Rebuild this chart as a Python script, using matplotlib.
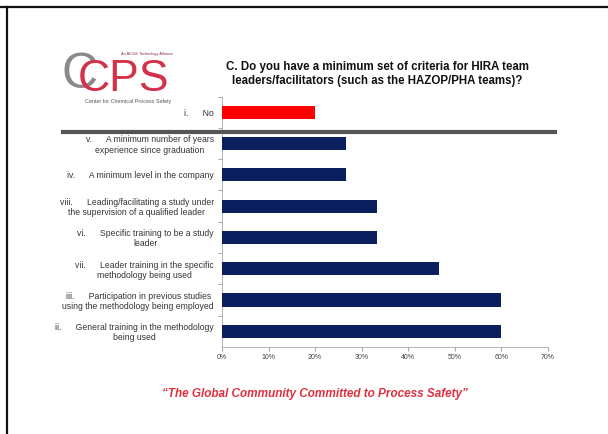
import matplotlib
matplotlib.use("Agg")
import matplotlib.pyplot as plt
from matplotlib.lines import Line2D

plt.rcParams["font.family"] = ["Liberation Sans", "DejaVu Sans"]

# Survey answers, top to bottom as shown on the slide
numerals = ["i.", "v.", "iv.", "viii.", "vi.", "vii.", "iii.", "ii."]
answers = [
    "No",
    "A minimum number of years\nexperience since graduation",
    "A minimum level in the company",
    "Leading/facilitating a study under\nthe supervision of a qualified leader",
    "Specific training to be a study\nleader",
    "Leader training in the specific\nmethodology being used",
    "Participation in previous studies\nusing the methodology being employed",
    "General training in the methodology\nbeing used",
]
shares = [20.0, 26.7, 26.7, 33.3, 33.3, 46.7, 60.0, 60.0]
bar_colors = ["#ff0000"] + ["#0b1f5e"] * 7
ticks = [0, 10, 20, 30, 40, 50, 60, 70]
tick_labels = [f"{t}%" for t in ticks]

W, H = 608, 434
fig = plt.figure(figsize=(W / 100, H / 100), dpi=100)
ax = fig.add_axes([222 / W, 1 - 347 / H, 326 / W, 250.5 / H])

ypos = list(range(len(answers)))
ax.barh(ypos, shares, height=0.42, color=bar_colors, zorder=3)
ax.set_xlim(0, 70)
ax.set_ylim(len(answers) - 0.5, -0.5)

ax.set_xticks(ticks)
ax.set_xticklabels(tick_labels, fontsize=5, color="#444444")
ax.tick_params(axis="x", length=3, color="#aaaaaa", pad=2)

# tick marks sit on category boundaries, the labels on the category centres
ax.set_yticks([y + 0.5 for y in ypos[:-1]] + [-0.5])
ax.set_yticklabels([])
ax.tick_params(axis="y", which="major", length=3, color="#aaaaaa")
labels = [f"{num}      {txt}" for num, txt in zip(numerals, answers)]
ax.set_yticks(ypos, minor=True)
ax.set_yticklabels(labels, minor=True, fontsize=6.2, color="#333333",
                   multialignment="center", linespacing=1.15)
ax.tick_params(axis="y", which="minor", length=0, pad=5.8)

for side in ["top", "right"]:
    ax.spines[side].set_visible(False)
ax.spines["left"].set_color("#aaaaaa")
ax.spines["bottom"].set_color("#aaaaaa")
ax.spines["left"].set_linewidth(0.6)
ax.spines["bottom"].set_linewidth(0.6)

# separator between the "No" answer and the criteria
ax.axhline(0.62, xmin=-0.488, xmax=1.02, color="#555555", linewidth=3,
           clip_on=False, zorder=4)

# title
fig.text(377 / W, 1 - 74 / H,
         "C. Do you have a minimum set of criteria for HIRA team\n"
         "leaders/facilitators (such as the HAZOP/PHA teams)?",
         ha="center", va="center", fontsize=8.3, fontweight="bold",
         color="#111111", linespacing=1.2)

# logo
fig.text(61 / W, 1 - 88 / H, "C", fontsize=36, color="#8a8a8a",
         ha="left", va="baseline", zorder=1)
fig.text(78 / W, 1 - 91 / H, "CPS", fontsize=32, color="#d3304a",
         ha="left", va="baseline", zorder=2)
fig.text(147 / W, 1 - 54 / H, "An AIChE Technology Alliance", fontsize=2.8,
         color="#8a3040", ha="center", va="center")
fig.text(128 / W, 1 - 102 / H, "Center for Chemical Process Safety",
         fontsize=3.9, color="#555555", ha="center", va="center")

# footer slogan
fig.text(315 / W, 1 - 394 / H,
         "\u201cThe Global Community Committed to Process Safety\u201d",
         ha="center", va="center", fontsize=8.5, fontweight="bold",
         fontstyle="italic", color="#e03040")

# slide frame edges
fig.add_artist(Line2D([0, 1], [1 - 6.5 / H, 1 - 6.5 / H], color="#111111",
                      linewidth=1.6, transform=fig.transFigure))
fig.add_artist(Line2D([6.5 / W, 6.5 / W], [0, 1 - 6.5 / H], color="#111111",
                      linewidth=1.6, transform=fig.transFigure))

fig.savefig("out.png", dpi=100)
